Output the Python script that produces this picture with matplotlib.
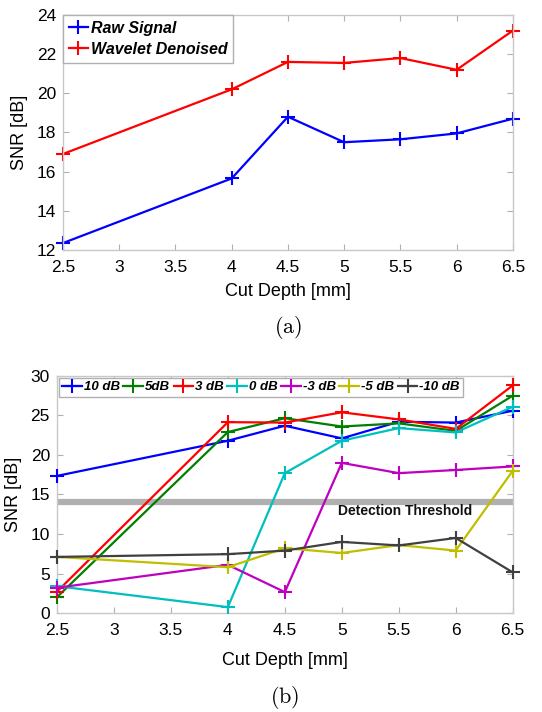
import numpy as np
import matplotlib.pyplot as plt

plt.rcParams['font.family'] = ['Liberation Sans', 'DejaVu Sans']
plt.rcParams['mathtext.fontset'] = 'cm'

# ---- data, panel (a)
depth = [2.5, 4.0, 4.5, 5.0, 5.5, 6.0, 6.5]
raw_signal = [12.35, 15.65, 18.8, 17.5, 17.65, 17.95, 18.7]
wavelet_denoised = [16.9, 20.2, 21.6, 21.55, 21.8, 21.2, 23.2]

# ---- data, panel (b)
noise_labels = ['10 dB', '5dB', '3 dB', '0 dB', '-3 dB', '-5 dB', '-10 dB']
snr_10 = [17.35, 21.8, 23.7, 22.1, 24.2, 24.1, 25.6]
snr_5 = [2.0, 22.9, 24.65, 23.6, 24.0, 23.05, 27.5]
snr_3 = [2.7, 24.15, 24.1, 25.4, 24.5, 23.3, 28.8]
snr_0 = [3.4, 0.75, 17.7, 21.8, 23.4, 22.85, 26.1]
snr_m3 = [3.2, 6.1, 2.65, 19.0, 17.7, 18.1, 18.55]
snr_m5 = [7.1, 5.8, 8.2, 7.6, 8.6, 7.9, 18.0]
snr_m10 = [7.1, 7.45, 7.9, 9.0, 8.55, 9.5, 5.15]
threshold = 14.1

colors = ['#0000ff', '#007f00', '#ff0000', '#00bfbf', '#bf00bf', '#bfbf00', '#404040']

fig = plt.figure(figsize=(5.42, 7.12), dpi=100)
ax1 = fig.add_axes([0.1162, 0.649, 0.830, 0.330])
ax2 = fig.add_axes([0.105, 0.139, 0.841, 0.333])


def style_axes(ax, xpad=6):
    for s in ax.spines.values():
        s.set_color('#c8c8c8')
        s.set_linewidth(1.0)
    ax.tick_params(axis='both', direction='in', top=True, right=True, length=4,
                   color='#b0b0b0', labelsize=12.5)
    ax.tick_params(axis='x', pad=7)
    ax.tick_params(axis='y', pad=5)
    ax.set_xlabel('Cut Depth [mm]', fontsize=13, labelpad=xpad)
    ax.set_ylabel('SNR [dB]', fontsize=13, labelpad=6)


lw, ms, mew = 1.6, 10, 1.5

# (a)
ax1.plot(depth, raw_signal, color='#0000ff', marker='+', lw=lw, ms=ms, mew=mew,
         label='Raw Signal', clip_on=False)
ax1.plot(depth, wavelet_denoised, color='#ff0000', marker='+', lw=lw, ms=ms, mew=mew,
         label='Wavelet Denoised', clip_on=False)
ax1.set_xlim(2.5, 6.5)
ax1.set_ylim(12, 24)
ax1.set_xticks([2.5, 3, 3.5, 4, 4.5, 5, 5.5, 6, 6.5])
ax1.set_xticklabels(['2.5', '3', '3.5', '4', '4.5', '5', '5.5', '6', '6.5'])
ax1.set_yticks(range(12, 25, 2))
style_axes(ax1)
ax1.legend(loc='upper left', prop={'weight': 'bold', 'style': 'italic', 'size': 11.5},
           handlelength=1.2, handletextpad=0.2, borderpad=0.35, labelspacing=0.4,
           borderaxespad=0.0, fancybox=False, edgecolor='#b0b0b0', framealpha=1)
ax1.text(0.5, -0.33, r'$\mathrm{(a)}$', transform=ax1.transAxes, ha='center', va='center',
         fontsize=16)

# (b)
series = [snr_10, snr_5, snr_3, snr_0, snr_m3, snr_m5, snr_m10]
ax2.axhline(threshold, color='#b0b0b0', lw=4.5, zorder=1)
for vals, lab, c in zip(series, noise_labels, colors):
    ax2.plot(depth, vals, color=c, marker='+', lw=lw, ms=ms, mew=mew, label=lab,
             clip_on=False, zorder=3)
ax2.text(4.97, 12.85, 'Detection Threshold', fontsize=10, fontweight='bold',
         ha='left', va='center', color='#111111')
ax2.set_xlim(2.5, 6.5)
ax2.set_ylim(0, 30)
ax2.set_xticks([2.5, 3, 3.5, 4, 4.5, 5, 5.5, 6, 6.5])
ax2.set_xticklabels(['2.5', '3', '3.5', '4', '4.5', '5', '5.5', '6', '6.5'])
ax2.set_yticks(range(0, 31, 5))
style_axes(ax2, xpad=10)
ax2.legend(loc='upper left', ncol=7, prop={'weight': 'bold', 'style': 'italic', 'size': 9.5},
           handlelength=1.5, handletextpad=0.15, columnspacing=0.25, borderpad=0.25,
           borderaxespad=0.15, fancybox=False, edgecolor='#b0b0b0', framealpha=1)
ax2.text(0.5, -0.355, r'$\mathrm{(b)}$', transform=ax2.transAxes, ha='center', va='center',
         fontsize=16)

fig.savefig('out.png', dpi=100)
